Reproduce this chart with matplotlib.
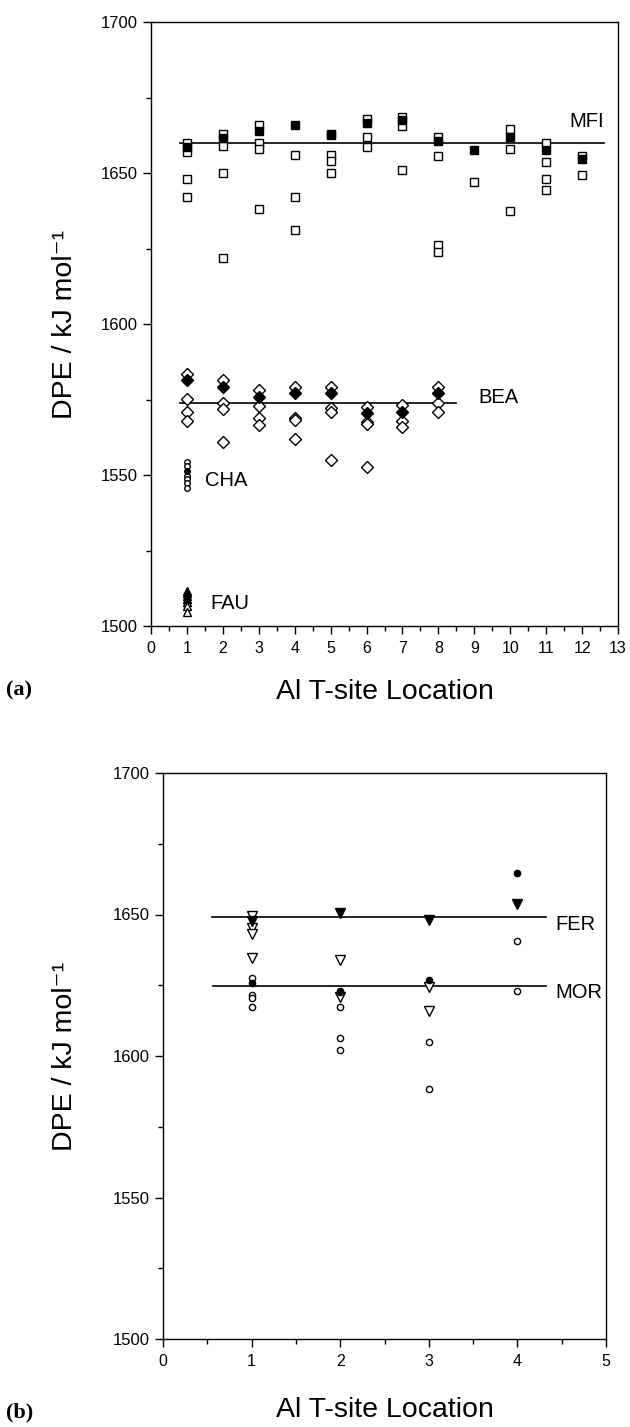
"""
DPE vs Al T-site location for several zeolite frameworks, panels (a) and (b).
"""

import matplotlib.pyplot as plt
from matplotlib.ticker import MultipleLocator

OUT_PATH = "out.png"

# ---- panel (a) data --------------------------------------------------------
mfi_open_x = [1, 1, 1, 1, 2, 2, 2, 2, 3, 3, 3, 3, 4, 4, 4, 5, 5, 5, 5,
              6, 6, 6, 7, 7, 7, 8, 8, 8, 8, 9, 10, 10, 10,
              11, 11, 11, 11, 12, 12]
mfi_open_y = [1660, 1657, 1648, 1642, 1663, 1659, 1650, 1622,
              1666, 1660, 1658, 1638, 1656, 1642, 1631,
              1663, 1656, 1654, 1650, 1668, 1662, 1658.5,
              1668.5, 1665.5, 1651, 1662, 1655.5, 1626, 1624,
              1647, 1664.5, 1658, 1637.5, 1660, 1653.5, 1648, 1644.5,
              1655.5, 1649.5]
mfi_fill_x = [1, 2, 3, 4, 5, 6, 7, 8, 9, 10, 11, 12]
mfi_fill_y = [1658.5, 1661.5, 1664, 1666, 1662.5, 1666.5, 1667.5, 1660.5,
              1657.5, 1662, 1657.5, 1654.5]

bea_open_x = [1, 1, 1, 1, 2, 2, 2, 2, 3, 3, 3, 3, 4, 4, 4, 4,
              5, 5, 5, 5, 6, 6, 6, 6, 7, 7, 7, 8, 8, 8]
bea_open_y = [1583.5, 1575.3, 1570.7, 1567.8, 1581.4, 1573.9, 1572, 1561,
              1578.1, 1573, 1568.9, 1566.7, 1579.2, 1569, 1568.2, 1561.8,
              1579.2, 1572.2, 1570.7, 1554.9, 1572.4, 1567.5, 1566.8, 1552.7,
              1573.1, 1567.8, 1566, 1579.2, 1573.9, 1570.7]
bea_fill_x = [1, 2, 3, 4, 5, 6, 7, 8]
bea_fill_y = [1581.4, 1579, 1575.7, 1577.2, 1577.2, 1570.4, 1570.7, 1577.3]

cha_open_x = [1, 1, 1, 1, 1, 1]
cha_open_y = [1554.2, 1553.1, 1549.8, 1548.7, 1547.4, 1545.6]
cha_fill_x = [1]
cha_fill_y = [1551.4]

fau_open_x = [1, 1, 1, 1]
fau_open_y = [1511.5, 1507.8, 1506.5, 1504.5]
fau_fill_x = [1, 1, 1]
fau_fill_y = [1510.8, 1509.8, 1509]

mfi_mean, mfi_span = 1660, [0.8, 12.6]
bea_mean, bea_span = 1574, [0.8, 8.5]

# ---- panel (b) data --------------------------------------------------------
fer_open_x = [1, 1, 1, 1, 2, 2, 3, 3]
fer_open_y = [1649.5, 1645.4, 1643, 1634.6, 1633.8, 1621, 1624.5, 1616]
fer_fill_x = [1, 2, 3, 4]
fer_fill_y = [1647.7, 1650.5, 1648.2, 1653.7]

mor_open_x = [1, 1, 1, 1, 2, 2, 2, 2, 3, 3, 4, 4]
mor_open_y = [1627.5, 1621.5, 1620.4, 1617.4, 1623.1, 1617.4, 1606.3, 1602,
              1605, 1588.5, 1640.8, 1623]
mor_fill_x = [1, 2, 3, 4]
mor_fill_y = [1625.7, 1622.5, 1627, 1664.5]

fer_mean, fer_span = 1649, [0.55, 4.32]
mor_mean, mor_span = 1624.8, [0.56, 4.32]

YLABEL = "DPE / kJ mol\u207b\u00b9"
XLABEL = "Al T-site Location"


def style_axes(ax, xmax):
    ax.set_xlim(0, xmax)
    ax.set_ylim(1500, 1700)
    ax.xaxis.set_major_locator(MultipleLocator(1))
    ax.xaxis.set_minor_locator(MultipleLocator(0.5))
    ax.yaxis.set_major_locator(MultipleLocator(50))
    ax.yaxis.set_minor_locator(MultipleLocator(25))
    ax.tick_params(which="both", direction="out", top=False, right=False,
                   width=1, color="black")
    ax.tick_params(which="major", length=5.5)
    ax.tick_params(which="minor", length=3.5)
    ax.tick_params(axis="x", labelsize=11.5, pad=5)
    ax.tick_params(axis="y", labelsize=12, pad=4)
    for sp in ax.spines.values():
        sp.set_linewidth(1)
    ax.set_ylabel(YLABEL, fontsize=20.5)
    ax.set_xlabel(XLABEL, fontsize=20.5)


def open_pts(ax, x, y, marker, ms, color="black"):
    ax.plot(x, y, linestyle="none", marker=marker, ms=ms, mfc="white",
            mec=color, mew=1, zorder=3)


def fill_pts(ax, x, y, marker, ms):
    ax.plot(x, y, linestyle="none", marker=marker, ms=ms, mfc="black",
            mec="black", mew=1, zorder=4)


def main() -> None:
    fig = plt.figure(figsize=(6.3, 14.27), dpi=100)

    # ---- (a)
    ax1 = fig.add_axes([151 / 630, 1 - 626 / 1427, 467 / 630, 604 / 1427])
    ax1.plot(mfi_span, [mfi_mean, mfi_mean], color="black", lw=1.2, zorder=2)
    ax1.plot(bea_span, [bea_mean, bea_mean], color="black", lw=1.2, zorder=2)

    open_pts(ax1, mfi_open_x, mfi_open_y, "s", 5.5)
    fill_pts(ax1, mfi_fill_x, mfi_fill_y, "s", 5.5)
    open_pts(ax1, bea_open_x, bea_open_y, "D", 6)
    fill_pts(ax1, bea_fill_x, bea_fill_y, "D", 6)
    open_pts(ax1, cha_open_x, cha_open_y, "o", 4)
    fill_pts(ax1, cha_fill_x, cha_fill_y, "o", 4)
    open_pts(ax1, fau_open_x, fau_open_y, "^", 6)
    fill_pts(ax1, fau_fill_x, fau_fill_y, "^", 6)

    lab = dict(fontsize=14.5, va="center", ha="left")
    ax1.text(11.65, 1667, "MFI", **lab)
    ax1.text(9.1, 1575.5, "BEA", **lab)
    ax1.text(1.5, 1548.3, "CHA", **lab)
    ax1.text(1.64, 1507.5, "FAU", **lab)

    style_axes(ax1, 13)
    ax1.yaxis.set_label_coords(-0.156, 0.5)
    ax1.xaxis.set_label_coords(0.5, -0.088)

    # ---- (b)
    ax2 = fig.add_axes([163 / 630, 1 - 1339 / 1427, 443 / 630, 566 / 1427])
    ax2.plot(fer_span, [fer_mean, fer_mean], color="black", lw=1.2, zorder=2)
    ax2.plot(mor_span, [mor_mean, mor_mean], color="black", lw=1.2, zorder=2)

    open_pts(ax2, mor_open_x, mor_open_y, "o", 4.5)
    fill_pts(ax2, mor_fill_x, mor_fill_y, "o", 4.5)
    open_pts(ax2, fer_open_x, fer_open_y, "v", 6.5)
    fill_pts(ax2, fer_fill_x, fer_fill_y, "v", 6.5)

    ax2.text(4.43, 1646.5, "FER", **lab)
    ax2.text(4.43, 1622.5, "MOR", **lab)

    style_axes(ax2, 5)
    ax2.yaxis.set_label_coords(-0.192, 0.5)
    ax2.xaxis.set_label_coords(0.5, -0.102)

    panel_font = dict(family=["Liberation Serif", "DejaVu Serif"],
                      fontweight="bold", fontsize=16, va="center", ha="left")
    fig.text(6 / 630, 1 - 690 / 1427, "(a)", **panel_font)
    fig.text(6 / 630, 1 - 1412 / 1427, "(b)", **panel_font)

    fig.savefig(OUT_PATH, dpi=100)
    plt.close(fig)
    print(f"Saved figure to {OUT_PATH}")


if __name__ == "__main__":
    plt.rcParams["font.family"] = ["Liberation Sans", "DejaVu Sans"]
    main()
